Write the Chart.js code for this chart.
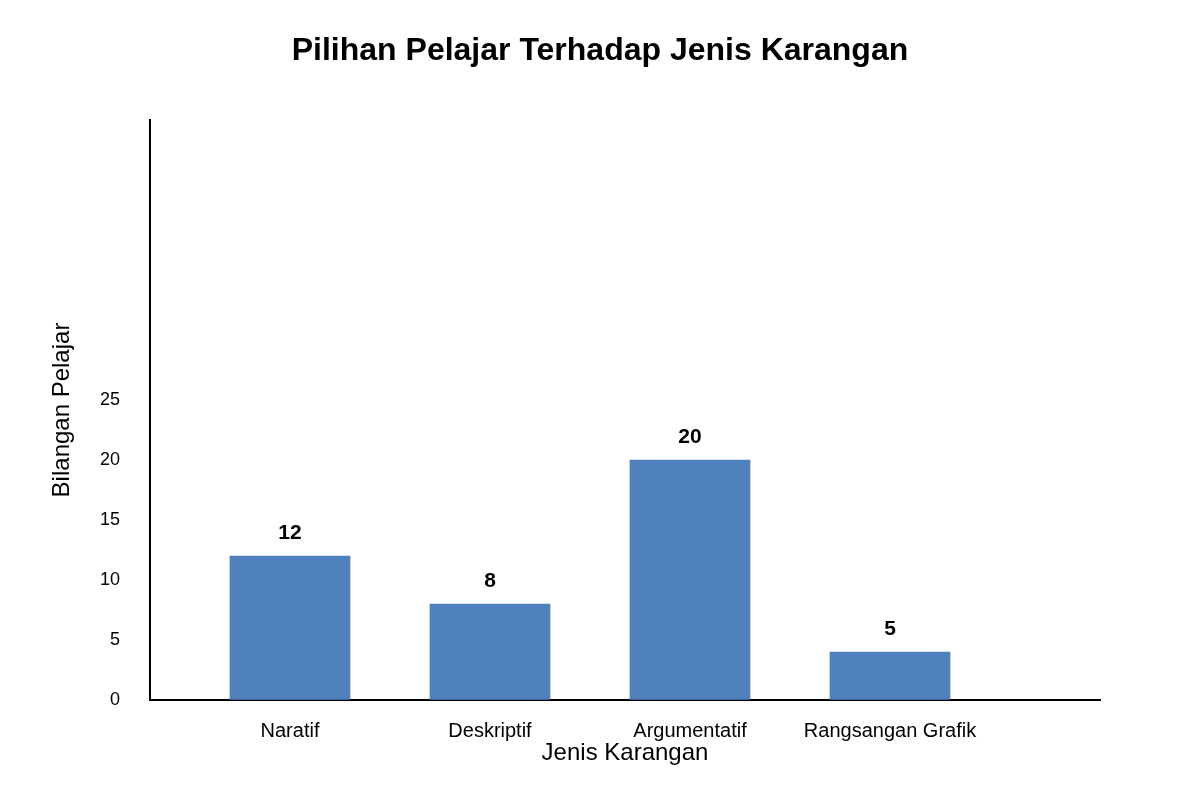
<!DOCTYPE html>
<html>
<head>
<meta charset="utf-8">
<script src="https://cdn.jsdelivr.net/npm/chart.js@4"></script>
<style>
html,body{margin:0;padding:0;background:#fff;}
#wrap{width:1200px;height:800px;}
</style>
</head>
<body>
<div id="wrap"><canvas id="c" width="1200" height="800"></canvas></div>
<script>
const categories = ["Naratif", "Deskriptif", "Argumentatif", "Rangsangan Grafik"];
const barValues = [12, 8, 20, 4];
const valueLabels = ["12", "8", "20", "5"];
const yTicks = [0, 5, 10, 15, 20, 25];

const FONT = "'Liberation Sans', Arial, sans-serif";

const labelPlugin = {
  id: 'valueLabels',
  afterDatasetsDraw(chart) {
    const ctx = chart.ctx;
    const meta = chart.getDatasetMeta(0);
    ctx.save();
    ctx.font = "bold 21px " + FONT;
    ctx.fillStyle = "#000";
    ctx.textAlign = "center";
    ctx.textBaseline = "middle";
    meta.data.forEach((el, i) => {
      ctx.fillText(valueLabels[i], el.x, el.y - 23);
    });
    ctx.restore();
  }
};

new Chart(document.getElementById('c'), {
  type: 'bar',
  data: {
    datasets: [{
      data: barValues.map((v, i) => ({x: i, y: v})),
      backgroundColor: '#4F81BD',
      borderWidth: 0,
      barThickness: 120
    }]
  },
  options: {
    responsive: false,
    animation: false,
    layout: {padding: 0},
    plugins: {
      legend: {display: false},
      tooltip: {enabled: false},
      title: {
        display: true,
        text: 'Pilihan Pelajar Terhadap Jenis Karangan',
        color: '#000',
        font: {family: FONT, size: 32, weight: 'bold'},
        padding: {top: 32, bottom: 49.6}
      }
    },
    scales: {
      x: {
        type: 'linear',
        offset: false,
        min: -0.7,
        max: 4.05,
        grid: {drawOnChartArea: false, drawTicks: false},
        border: {display: true, color: '#000', width: 2},
        afterBuildTicks(scale) {
          scale.ticks = categories.map((c, i) => ({value: i}));
        },
        afterFit(scale) { scale.height = 100; },
        ticks: {
          padding: 19,
          color: '#000',
          font: {family: FONT, size: 20},
          maxRotation: 0,
          autoSkip: false,
          callback: (v) => categories[v] !== undefined ? categories[v] : ''
        },
        title: {
          display: true,
          text: 'Jenis Karangan',
          color: '#000',
          font: {family: FONT, size: 24},
          padding: {top: 0, bottom: 32}
        }
      },
      y: {
        min: 0,
        max: 48.333,
        grid: {drawOnChartArea: false, drawTicks: false},
        border: {display: true, color: '#000', width: 2},
        afterBuildTicks(scale) {
          scale.ticks = yTicks.map(v => ({value: v}));
        },
        afterFit(scale) { scale.width = 150; },
        ticks: {
          padding: 30,
          color: '#000',
          font: {family: FONT, size: 18}
        },
        title: {
          display: true,
          text: 'Bilangan Pelajar',
          color: '#000',
          font: {family: FONT, size: 24},
          padding: {top: 48, bottom: 0}
        }
      },
      yRight: {
        position: 'right',
        min: 0,
        max: 1,
        grid: {display: false, drawTicks: false},
        border: {display: false},
        ticks: {display: false},
        afterFit(scale) { scale.width = 100; }
      }
    }
  },
  plugins: [labelPlugin]
});
</script>
</body>
</html>
